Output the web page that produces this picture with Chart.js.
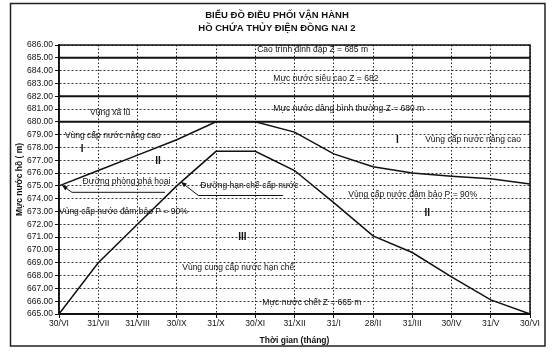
<!DOCTYPE html>
<html>
<head>
<meta charset="utf-8">
<script src="https://cdn.jsdelivr.net/npm/chart.js@4.4.1/dist/chart.umd.min.js"></script>
<style>
  html, body { margin: 0; padding: 0; background: #fff; }
  #wrap { width: 553px; height: 360px; }
</style>
</head>
<body>
<div id="wrap"><canvas id="chart" width="553" height="360"></canvas></div>
<script>
// thoi gian (thang)
const months = ['30/VI', '31/VII', '31/VIII', '30/IX', '31/X', '30/XI', '31/XII', '31/I', '28/II', '31/III', '30/IV', '31/V', '30/VI'];
// duong phong pha hoai
const phongPhaHoai = [675.0, 676.2, 677.4, 678.6, 680.0, 680.0, 679.2, 677.5, 676.5, 676.0, 675.75, 675.55, 675.15];
// duong han che cap nuoc
const hanCheCapNuoc = [665.0, 669.0, 672.0, 675.0, 677.7, 677.7, 676.2, 673.7, 671.1, 669.8, 667.9, 666.1, 665.0];
// cao trinh dinh dap, muc nuoc sieu cao, muc nuoc dang binh thuong
const mucNuocDacTrung = [685, 682, 680];
const yMin = 665;
const yMax = 686;

const titleLines = ['BIỂU ĐỒ ĐIỀU PHỐI VẬN HÀNH', 'HỒ CHỨA THỦY ĐIỆN ĐỒNG NAI 2'];

const FONT = '"Liberation Sans", Arial, sans-serif';

// text on the chart, x in month index, y in metres
const notes = [
  { text: 'Cao trình đỉnh đập Z = 685 m', x: 5.05, y: 685.65 },
  { text: 'Mực nước siêu cao Z = 682', x: 5.46, y: 683.4 },
  { text: 'Mực nước dâng bình thường Z = 680 m', x: 5.46, y: 681.0 },
  { text: 'Vùng xả lũ', x: 0.79, y: 680.7 },
  { text: 'Vùng cấp nước nâng cao', x: 0.15, y: 678.9 },
  { text: 'I', x: 0.59, y: 677.9, align: 'center', big: true },
  { text: 'II', x: 2.52, y: 676.9, align: 'center', big: true },
  { text: 'Đường phòng phá hoại', x: 0.6, y: 675.3 },
  { text: 'Đường hạn chế cấp nước', x: 3.6, y: 675.05 },
  { text: 'Vùng cấp nước đảm bảo P = 90%', x: 0.0, y: 673.0 },
  { text: 'III', x: 4.67, y: 671.0, align: 'center', big: true },
  { text: 'Vùng cung cấp nước hạn chế', x: 3.14, y: 668.65 },
  { text: 'Mực nước chết Z = 665 m', x: 5.18, y: 665.9 },
  { text: 'I', x: 8.62, y: 678.6, align: 'center', big: true },
  { text: 'Vùng cấp nước nâng cao', x: 9.33, y: 678.6 },
  { text: 'Vùng cấp nước đảm bảo P = 90%', x: 7.37, y: 674.3 },
  { text: 'II', x: 9.38, y: 672.9, align: 'center', big: true }
];

// leader lines: tip first, then the bend, then the end under the text
const leaders = [
  [[0.08, 675.05], [0.33, 674.5], [2.7, 674.5]],
  [[3.11, 675.3], [3.55, 674.25], [5.71, 674.25]]
];

const decor = {
  id: 'decor',
  beforeDraw(chart) {
    const ctx = chart.ctx;
    ctx.save();
    ctx.fillStyle = '#fff';
    ctx.fillRect(0, 0, chart.width, chart.height);
    ctx.restore();
  },
  afterDatasetsDraw(chart) {
    const ctx = chart.ctx;
    const xs = chart.scales.x, ys = chart.scales.y;
    const a = chart.chartArea;
    ctx.save();
    // plot frame
    ctx.strokeStyle = '#111';
    ctx.lineWidth = 1.5;
    ctx.strokeRect(a.left, a.top, a.right - a.left, a.bottom - a.top);

    // notes
    ctx.fillStyle = '#111';
    ctx.textBaseline = 'middle';
    notes.forEach(n => {
      ctx.font = n.big ? 'bold 10px ' + FONT : '8.5px ' + FONT;
      ctx.textAlign = n.align || 'left';
      ctx.fillText(n.text, xs.getPixelForValue(n.x), ys.getPixelForValue(n.y));
    });

    // leaders with arrow heads
    ctx.lineWidth = 1;
    leaders.forEach(pts => {
      const p = pts.map(q => [xs.getPixelForValue(q[0]), ys.getPixelForValue(q[1])]);
      ctx.beginPath();
      ctx.moveTo(p[0][0], p[0][1]);
      for (let i = 1; i < p.length; i++) ctx.lineTo(p[i][0], p[i][1]);
      ctx.stroke();
      const ang = Math.atan2(p[0][1] - p[1][1], p[0][0] - p[1][0]);
      ctx.beginPath();
      ctx.moveTo(p[0][0], p[0][1]);
      ctx.lineTo(p[0][0] - 6 * Math.cos(ang - 0.4), p[0][1] - 6 * Math.sin(ang - 0.4));
      ctx.lineTo(p[0][0] - 6 * Math.cos(ang + 0.4), p[0][1] - 6 * Math.sin(ang + 0.4));
      ctx.closePath();
      ctx.fill();
    });
    ctx.restore();
  },
  afterDraw(chart) {
    const ctx = chart.ctx;
    ctx.save();
    // title
    ctx.fillStyle = '#111';
    ctx.font = 'bold 9.5px ' + FONT;
    ctx.textAlign = 'center';
    ctx.textBaseline = 'middle';
    ctx.fillText(titleLines[0], 277, 15);
    ctx.fillText(titleLines[1], 277, 28);
    // outer frame
    ctx.strokeStyle = '#222';
    ctx.lineWidth = 1.5;
    ctx.strokeRect(10.5, 3.5, 534.5, 342.5);
    ctx.restore();
  }
};

const levelSets = mucNuocDacTrung.map(z => ({
  label: 'Z = ' + z,
  data: months.map(() => z),
  borderColor: '#111',
  borderWidth: 2,
  pointRadius: 0,
  fill: false
}));

new Chart(document.getElementById('chart'), {
  type: 'line',
  data: {
    labels: months,
    datasets: [
      ...levelSets,
      {
        label: 'Đường phòng phá hoại',
        data: phongPhaHoai,
        borderColor: '#111',
        borderWidth: 1.5,
        pointRadius: 0,
        tension: 0,
        fill: false
      },
      {
        label: 'Đường hạn chế cấp nước',
        data: hanCheCapNuoc,
        borderColor: '#111',
        borderWidth: 1.5,
        pointRadius: 0,
        tension: 0,
        fill: false
      }
    ]
  },
  options: {
    responsive: false,
    animation: false,
    layout: { padding: { left: 12, right: 23, top: 45, bottom: 12 } },
    plugins: {
      legend: { display: false },
      tooltip: { enabled: false },
      title: { display: false }
    },
    scales: {
      x: {
        offset: false,
        afterFit: s => { s.height = 34; },
        grid: {
          color: '#222',
          lineWidth: 1,
          tickLength: 4,
          tickBorderDash: [],
          tickColor: '#111'
        },
        border: { display: true, color: '#111', width: 2, dash: [1.5, 2] },
        ticks: {
          color: '#111',
          font: { family: FONT, size: 8.5 },
          padding: 1,
          maxRotation: 0,
          autoSkip: false
        },
        title: {
          display: true,
          text: 'Thời gian (tháng)',
          color: '#111',
          font: { family: FONT, size: 8.5, weight: 'bold' },
          padding: { top: 0, bottom: 2 }
        }
      },
      y: {
        min: yMin,
        max: yMax,
        afterFit: s => { s.width = 47; },
        grid: {
          color: '#333',
          lineWidth: 1,
          tickLength: 4,
          tickBorderDash: [],
          tickColor: '#111'
        },
        border: { display: true, color: '#111', width: 1.5, dash: [2, 2] },
        ticks: {
          stepSize: 1,
          autoSkip: false,
          color: '#111',
          font: { family: FONT, size: 8.5 },
          padding: 2,
          callback: v => Number(v).toFixed(2)
        },
        title: {
          display: true,
          text: 'Mực nước hồ ( m)',
          color: '#111',
          font: { family: FONT, size: 8.5, weight: 'bold' },
          padding: { top: 3, bottom: 0 }
        }
      }
    }
  },
  plugins: [decor]
});
</script>
</body>
</html>
